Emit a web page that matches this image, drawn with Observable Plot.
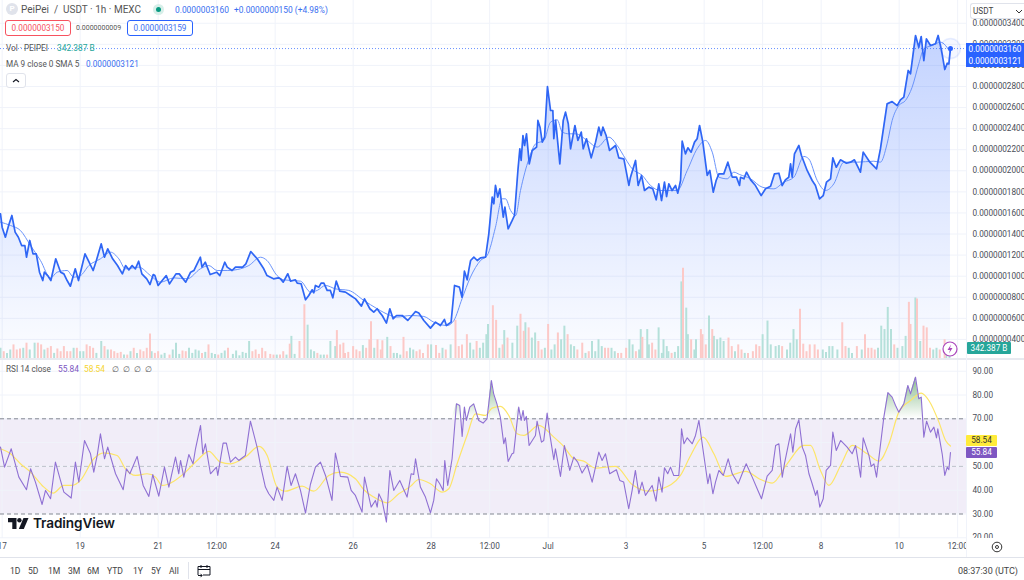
<!DOCTYPE html>
<html><head><meta charset="utf-8">
<script src="https://cdn.jsdelivr.net/npm/d3@7"></script>
<script src="https://cdn.jsdelivr.net/npm/@observablehq/plot@0.6"></script>
<style>
html,body{margin:0;padding:0;background:#fff}
#app{position:relative;width:1024px;height:580px;overflow:hidden;font-family:Roboto,"Liberation Sans",sans-serif;color:#555}
#app>div,.t{position:absolute;white-space:nowrap}
.pane{left:0}
.t{line-height:1}
.box{position:absolute;box-sizing:border-box;border-radius:3px;background:#fff;text-align:center;font-size:8.2px;line-height:14px;height:16px}
.tag{position:absolute;box-sizing:border-box;color:#fff;font-size:8.2px;text-align:center}
</style></head><body><div id="app"></div>
<script>
// price close, hours from chart start, in units of 1e-10 USDT
const priceHours=[0,1,3,5,7,9,11,13,15,16,18,20,22,24,26,27,29,31,34,37,39,41,43,46,48,52,54,57,59,62,64,66,69,72,75,77,79,81,83,85,87,90,92,94,95,97,102,104,108,110,114,117,119,123,124,126,129,133,135,138,139.5,142.5,144.6,149,151,154,158,162,164,168,171,
172.3,174,176.8,178.5,181.5,182.6,185,187.7,189.7,191.8,192.8,193.8,195.9,197.3,199,201,203,204.5,206.6,208.8,212.3,215.4,218.5,222.1,224,227.3,229.7,231.8,233.2,234.9,237.5,239.6,241.6,243.7,247.2,250.6,253.3,255.4,257.4,260.5,264.6,267.7,270.7,273.2,274.4,277.3,279.4,282.4,284,285.5,287.2,
288.2,289.3,291.3,293.4,295.4,298.5,300.5,302.6,303.6,304.6,306,307.3,309.4,310.4,312.4,314.9,316.3,318.4,319.6,320.4,321.5,322.5,323.7,325.4,327.2,329.9,330.7,332,333.4,334.8,336.6,338.5,339.9,340.5,341.6,344.2,346.3,347.7,349.4,350.8,353.5,355.3,357.4,358.6,360.6,363.5,366.2,368.2,369.6,370.7,372.7,374.8,378.5,380.5,383.6,386.7,387.7,390.8,392.4,394.5,396.3,399,401.4,403.5,405.1,406.8,408.6,409.9,411.3,413.3,415.4,416.8,418.5,419.5,421.5,423,425,427.1,428.7,430.2,432.2,434.9,436.5,438.6,440.4,442.1,445.1,447.6,450.3,452.9,454.8,
455.4,457.5,459.1,461.6,464.6,468.1,470.8,473.9,476.3,479,481,483,485.1,486.2,487.2,488.6,491.3,492.9,496.4,499.5,501.5,504,506.3,508.3,510.8,512.2,514.3,516.9,520.6,523.1,525.5,529.2,530.9,535,539.1,541.5,545.6,548.7,551.8,553.8,555.9,558.6,560,563.1,565.1,566.6,568.2,569.8,572.3,575.4,577,579.1,581.1,582.6,583.6,584.6];
const priceValues=[1592,1465,1370,1481,1576,1418,1370,1291,1291,1180,1339,1212,1212,1038,959,1038,1006,959,1165,1038,1022,959,905,1070,959,1212,1149,1054,1149,1307,1180,1259,1165,1101,1022,1101,1060,1101,1070,1142,1022,975,921,1016,1006,912,1006,927,1022,1022,943,1038,1054,1180,1086,1133,1016,1038,1006,1133,1086,1054,1086,1086,1117,1234,1165,1070,1006,975,984,
975,944,1023,953,966,934,928,776,817,871,842,912,896,934,934,865,865,795,953,858,849,817,785,716,785,691,659,691,659,627,555,691,596,627,627,580,627,665,650,580,507,564,532,589,532,564,912,896,801,1048,966,
1060,1149,1181,1149,1174,1181,1402,1750,1687,1861,1750,1829,1560,1655,1450,1529,1576,2003,2209,2098,2335,2240,2351,2066,2193,2225,2478,2414,2272,2319,2800,2572,2572,2304,2478,2066,2478,2557,2446,2209,2430,2288,2367,2209,2304,2123,2272,2414,2335,2414,2335,2193,2240,2123,2114,1861,1940,2098,1861,1956,1813,1845,1829,1725,1877,1718,1892,1756,1877,1813,1861,1788,1908,2281,2161,2218,2177,2272,2304,2430,2272,1956,2003,1797,1908,1971,1971,2082,1940,1940,1861,
1939,1924,1987,1914,1860,1765,1829,1854,1971,1977,1860,1914,1939,2066,1939,2161,2240,2145,2003,1908,1860,1734,1765,1892,1924,2123,2034,2104,2072,2082,2104,1987,2177,2082,2018,2208,2635,2657,2619,2673,2699,2952,2920,3284,3173,3274,3046,3252,3189,3205,3284,3141,2961,3021,3015,3160];
// MA of the close
const maHours=[0,6.2,12.3,18.5,24.6,30.8,34.9,41,45,49.2,54.4,61.5,67.7,72.8,76.9,85.1,92.3,98.4,106.7,114.9,123,128.2,133.3,139.5,147.7,152.8,160,164,170.2,174.3,184.6,190.8,194.9,200,206.1,214.3,223.6,231.8,240,244,252.3,260.5,266.6,274.9,279,284,289.2,295.4,299.5,304.6,308.7,310.8,313.9,317,320,325.2,329.3,334.4,338.5,342.6,345.7,349.8,353.9,361,367.2,374.4,379.5,384.6,388.7,394.9,400,406.2,416.4,422.6,428.7,433.9,438,442.1,447.2,451.3,454.8,461.6,468.7,475.9,482,488.2,494.4,497.4,502.6,507.7,512.8,519,527.2,537.4,541.5,545.6,548.7,552.8,556.9,561,565.1,568.2,573.3,578.5,584.6];
const maValues=[1513,1481,1433,1291,1149,984,1038,1054,991,1006,1101,1165,1228,1165,1070,1086,1006,943,984,975,1070,1101,1054,1054,1070,1101,1180,1149,1006,965,953,849,865,912,880,865,770,691,627,612,627,618,564,532,580,785,991,1149,1197,1465,1734,1734,1624,1576,1813,2114,2256,2288,2462,2484,2367,2351,2351,2288,2225,2319,2240,2114,2019,1956,1861,1813,1813,2003,2209,2288,2177,1940,1924,1987,1965,1924,1845,1829,1892,1939,2136,2113,1908,1813,1876,2082,2082,2091,2082,2256,2477,2619,2667,2793,3015,3157,3189,3220,3121];
// volume bars, billions, u = up, d = down
const volumeHours=[0,2,4,6,8,10,12,14,16,18,21,23,25,27,29,31,33,35,37,39,41,43,45,47,49,51,53,55,57,59,62,64,66,68,70,72,74,76,78,80,82,84,86,88,90,92,93,95,97,99,101,104,106,108,110,112,114,116,118,120,122,124,126,128,130,132,134,136,138,140,143,145,147,149,151,153,155,157,159,161,163,166,168,170,172,174,176,178,179,181,184,187,189,191,193,195,
197,199,201,203,206,207,209,211,212,214,217,219,221,223,225,227,228,230,232,234,235,238,240,242,244,246,248,250,252,254,256,258,260,263,265,268,270,272,274,277,280,282,284,287,289,291,293,295,297,299,300,303,305,307,309,310,312,315,318,320,322,323,325,327,329,331,333,335,337,339,341,343,345,347,349,351,353,355,358,360,362,364,366,368,370,372,374,376,378,380,382,385,387,389,391,393,
394,395,398,399,401,403,405,407,408,410,411,413,415,417,419,420,422,423,425,427,428,431,432,434,436,438,439,441,443,445,448,450,452,454,456,458,460,463,465,467,469,472,474,477,479,481,484,486,488,490,492,494,496,498,501,503,506,508,510,512,515,518,520,522,524,527,530,532,534,536,538,540,542,544,546,548,550,552,555,557,559,560,563,564,566,568,570,572,574,576,578,581,582,584];
const volumeValues=[510,340,255,425,680,425,475,510,765,425,765,765,680,425,510,595,255,475,340,595,340,340,510,510,340,340,680,595,510,255,850,595,425,425,340,255,305,170,170,340,510,255,425,340,510,1225,340,255,340,170,255,170,425,765,205,375,340,510,255,425,375,255,305,680,255,205,170,255,375,510,205,375,135,305,255,850,340,425,205,510,340,205,170,170,170,340,170,715,1105,205,850,2685,1665,425,340,255,
170,170,170,850,595,1395,680,765,255,305,595,425,340,645,510,935,1835,510,935,425,885,1055,595,255,255,170,1055,340,510,425,340,425,255,680,680,645,255,510,425,680,1905,595,680,1190,765,425,850,510,765,1190,1700,2635,1905,510,680,1395,1020,765,1615,2210,1360,1785,1530,1020,1275,850,425,510,1700,425,680,1275,935,1615,1190,680,595,425,765,255,340,850,340,935,595,510,510,510,340,255,255,510,935,680,340,425,
1445,1055,1445,680,765,425,1530,255,935,595,340,255,305,595,3825,4505,2515,1190,935,425,935,1445,1190,680,2125,1445,1105,935,1020,850,1020,595,340,680,425,255,255,340,680,595,1190,1870,680,595,645,595,425,765,1445,935,2465,715,340,680,680,425,425,305,595,595,425,1785,595,510,255,595,425,1190,510,510,425,510,1615,1445,2550,1445,680,510,595,1105,2805,1700,3025,2975,850,1615,1530,510,425,510,425,935,425,342];
const volumeDirs="uuduudduududdddudddduddduuddduuuduuduududuuddudddduddddudddudduuuduuuuuuuuuddduuuudududuuuuuuuddduudduuddddduddduddduuuuuudduuuuuuuuuduuuduuuduuddddduuuuuuuududddduuuuuduuuuduuuuduudddd".padEnd(0,"u");
const volumeDirsA="uuduudduududdddduuddduuuddduuuddduuuuduudduuddduddduuuddddududuuuuuuuddduuuuuuuudduudduudddduduuuuu";
// RSI 14
const rsiHours=[0,2.5,6.6,11.3,16,18.5,21.5,25.6,27.7,30.8,33.8,36.9,39,43.5,46.1,48.2,51.7,55.4,57.4,59.5,61.5,64,66,70.8,75.5,77.5,79.6,84.1,87.8,91.3,93.7,97.4,100.9,103.6,107.7,109.7,110.8,112.8,115.9,118.5,120,123.1,124.5,126.1,129.2,132.9,133.7,137,139,141.5,144.6,146.6,150.7,153.8,157.9,160,163,165.1,168.2,170.2,173.3,176.4,178.8,181.5,184.6,187.7,190.7,193.8,196.9,200,204,206.1,209.2,213.7,215.8,218.4,222.5,224,228.1,230.7,231.8,232.8,234.8,237.5,239.6,242,245.7,250.2,252.7,254.3,255.4,258.4,261.5,264.6,266.6,268.3,270.3,272.4,273.4,275.2,277.9,280.6,282.6,284.1,285.5,286.7,288.8,291.2,294.3,297,299.4,302.1,303.5,305.6,307.6,309.7,310.7,312.4,314.8,315.8,318.9,320.4,321.6,322.4,323.6,325.3,329.2,330.2,332.9,334.3,336.4,338,340.5,341.5,344.6,347,350.3,352.8,355.2,357.9,361,364.1,368.2,370.2,372.3,374.9,379,381.1,383.5,386.6,388.7,390.7,392.8,394.8,396.9,401,403.4,405.1,407.1,408.6,410.6,412.3,414.3,417.4,418.4,419.1,420.6,422.6,425.7,427.7,429.8,431.8,435.3,436.5,438.4,440,442.1,444.8,447.8,450.3,454,456.4,458.9,462.6,466.1,468.3,471.8,474.9,477,479,481.1,482.5,486.2,487.6,489.3,491.3,493.4,495.4,497.5,499.5,501.6,502.6,504.2,506.3,508.1,510.8,512.2,514.3,517,521,524.1,526.2,529.3,530.9,534.4,535.8,537.5,539.1,541.6,543.6,546.1,548.7,550.8,552.8,555.9,558.4,560,563.1,565.1,566.6,568.2,569.9,572.3,574.4,576,576.8,579.5,581.1,582.6,583.6,584.6];
const rsiValues=[58.1,49.7,57.4,45.5,40.2,49,43.4,34,39.9,36.4,51.8,44.1,39.2,36.7,51.8,43.4,60.9,55.3,47.6,54.6,63.7,53.2,58.1,46.9,40.2,49,46.9,54.2,42,37.4,46.6,37.5,49.7,41.3,53.9,46.9,52.5,45.5,55,51.1,57.4,67.2,55.3,59.5,46.9,49.7,46.2,59.8,59.8,51.8,53.9,52.5,54.6,69,58.1,50.4,41.3,38.5,35.7,41.3,35.7,50,42,46.9,39.9,30.4,42.4,49.7,51.8,46.2,35.7,55.6,45.8,45.5,39.9,37.8,30.8,45.5,32.9,35.7,32.9,38.5,35.7,26.6,48.3,39.9,44.1,37.1,46.9,46.6,53.2,41.3,37.1,30.5,35.7,44.8,42.7,39.9,52.5,42,53.2,76.3,75.6,62.6,74.9,69.3,74.9,76.3,69.3,68.2,70,86.1,80.5,76,70.7,59.5,62,52.1,55.3,55.6,74.9,69.3,73.5,69.3,71,58.8,63,69,60.2,60.9,72.4,63.7,52.8,57.4,45.8,58.8,48.3,53.9,51.8,47.2,50.7,43.4,56,52.5,55.3,46.9,48.6,44.1,43.4,32.2,39.9,48.3,38.5,43.4,37.8,42,35.4,45.5,39.2,49.4,46.9,49.7,46.2,46.2,54.6,65.8,59.5,62,59.5,63,69.3,59.5,42.7,46.9,38.5,43.4,48.3,46.2,53.2,46.9,42.7,46.9,51.1,45.5,39.9,36.4,45.9,48.3,58.8,59.5,45.5,51.4,63.7,56,65.8,69.6,58.1,54.6,46.9,42.7,37.8,39.9,32.9,36.4,48.3,50.4,64.4,56.7,60.9,58.1,55.3,58.8,45.5,62,54.6,50,51.1,45.5,59.5,70.7,81,79.1,75.6,72.8,76.3,84,80.5,87.5,78.4,79.1,62.3,69,64.4,66.5,62,65.8,55.3,46.2,49.7,48.6,55.84];
// RSI moving average
const rsiMaHours=[0,6.2,12.3,18.5,25.6,32.4,39,44.1,49.2,57.4,63.6,71.8,76.9,83.1,90.2,95.4,99.5,106.7,113.8,121,128.2,135.4,141.5,150.7,159,164.1,170.2,175.4,185.6,192.8,202,209.2,218.4,223.6,229.7,237.9,245.1,252.3,257.4,264.6,271.8,275.9,281,287.1,292.3,298.4,302.5,307.6,312.8,317.9,322,331.2,340.5,346.6,352.8,358.9,366.1,378.4,388.7,398.9,407.1,418.4,424.7,432.4,439,446.2,458.5,467.7,474.9,484.1,494.4,498.5,504.6,509.8,517,524.1,533.4,540.5,546.7,552.8,560,566.6,571.3,577.5,581.6,584.6];
const rsiMaValues=[57.4,55.3,51.1,47.6,42,38.8,42,42,44.1,53.2,55.7,54.6,49,46.2,46.9,45.5,42,43.8,47.6,52.5,56.3,51.8,51.1,53.9,58.4,54.6,41.3,39.6,41.7,39.6,46.2,47.6,44.8,40.2,37.1,34.7,38.5,41.6,44.5,42.7,39.2,40.6,51.1,63,72.1,71.4,74.5,75.2,71.4,63.7,63,67.2,62.3,58.4,53.2,52.2,49.3,50,42.4,39.6,40.6,46.2,54.6,62.3,55.3,45.8,47.9,44.5,43,51.1,58.8,58.8,48.3,42,50.4,58.8,55.3,52.2,59.5,72.8,77.7,80.8,77.7,68.6,60.9,58.54];
// axes
const priceTicks=[3400,3200,3000,2800,2600,2400,2200,2000,1800,1600,1400,1200,1000,800,600,400];
const rsiTicks=[90,80,70,60,50,40,30,20];
const rsiTickLabels=[90,80,70,50,40,30,20]; // ref prints no 60.00 under the tags
const timeTickDates=["2024-06-17T00:00Z","2024-06-19T00:00Z","2024-06-21T00:00Z","2024-06-22T12:00Z","2024-06-24T00:00Z","2024-06-26T00:00Z","2024-06-28T00:00Z","2024-06-29T12:00Z","2024-07-01T00:00Z","2024-07-03T00:00Z","2024-07-05T00:00Z","2024-07-06T12:00Z","2024-07-08T00:00Z","2024-07-10T00:00Z","2024-07-11T12:00Z"];
const timeTickLabels=["17","19","21","12:00","24","26","28","12:00","Jul","3","5","12:00","8","10","12:00"];
const rangeLabels=[["1D",10],["5D",28],["1M",48],["3M",68],["6M",87],["YTD",107],["1Y",133],["5Y",151],["All",169]];

const origin=Date.UTC(2024,5,16,23);
const toDate=h=>new Date(origin+h*3600e3);
const zipSeries=(hs,vs)=>hs.map((h,i)=>({t:toDate(h),v:vs[i]}));
const price=zipSeries(priceHours,priceValues);
const ma=zipSeries(maHours,maValues);
const rsi=zipSeries(rsiHours,rsiValues);
const rsiMa=zipSeries(rsiMaHours,rsiMaValues);
const isUp=h=>{ // a bar is up when the close rose over the hour around it
  const i=d3.bisectLeft(priceHours,h);
  const a=priceValues[Math.max(0,i-1)],b=priceValues[Math.min(priceValues.length-1,i)];
  return b>=a;
};
const volume=volumeHours.map((h,i)=>({t:toDate(h),v:volumeValues[i],up:isUp(h)}));
const tickDates=timeTickDates.map(s=>new Date(s));
const xDomain=[toDate(0),toDate(966/1.625)];
const gridColor="#f0f3fa";
const volBase=219,volK=0.19;
const font="Roboto,'Liberation Sans',sans-serif";

const defs=()=>{
  const s=d3.create("svg:defs");
  const g=s.append("linearGradient").attr("id","priceFade").attr("x1",0).attr("x2",0).attr("y1",0).attr("y2",1);
  g.append("stop").attr("offset",0).attr("stop-color","#2962ff").attr("stop-opacity",.28);
  g.append("stop").attr("offset",1).attr("stop-color","#2962ff").attr("stop-opacity",.015);
  const h=s.append("linearGradient").attr("id","obFade").attr("x1",0).attr("x2",0).attr("y1",0).attr("y2",1);
  h.append("stop").attr("offset",0).attr("stop-color","#388e3c").attr("stop-opacity",.6);
  h.append("stop").attr("offset",1).attr("stop-color","#388e3c").attr("stop-opacity",0);
  return s.node();
};

const pricePlot=Plot.plot({
  width:1024,height:358,marginLeft:0,marginRight:58,marginTop:0,marginBottom:0,
  style:{background:"transparent",fontFamily:font},
  x:{type:"utc",domain:xDomain,axis:null},
  y:{domain:[219,3616],axis:null},
  marks:[
    defs,
    Plot.gridX(tickDates,{stroke:gridColor,strokeOpacity:1}),
    Plot.gridY(priceTicks,{stroke:gridColor,strokeOpacity:1}),
    Plot.areaY(price,{x:"t",y1:()=>volBase,y2:"v",fill:"url(#priceFade)"}),
    Plot.ruleX(volume.filter(d=>d.up),{x:"t",y1:()=>volBase,y2:d=>volBase+d.v*volK,stroke:"#b5e0da",strokeWidth:2}),
    Plot.ruleX(volume.filter(d=>!d.up),{x:"t",y1:()=>volBase,y2:d=>volBase+d.v*volK,stroke:"#fcc9c7",strokeWidth:2}),
    Plot.ruleY([3160],{stroke:"#2962ff",strokeDasharray:"1,2",strokeOpacity:.7}),
    Plot.line(ma,{x:"t",y:"v",stroke:"#6b94fb",strokeWidth:1,curve:"monotone-x"}),
    Plot.line(price,{x:"t",y:"v",stroke:"#2f66f5",strokeWidth:1.7}),
    Plot.dot(price.slice(-1),{x:"t",y:"v",r:10,fill:"#2962ff",fillOpacity:.05,stroke:"#2962ff",strokeOpacity:.1}),
    Plot.dot(price.slice(-1),{x:"t",y:"v",r:2.5,fill:"#2962ff"}),
    Plot.axisY({anchor:"right",ticks:priceTicks,tickSize:0,tickPadding:6,label:null,fontSize:8.2,fill:"#4a4e59",
      tickFormat:d=>(d*1e-10).toFixed(10)})
  ]
});

const rsiPlot=Plot.plot({
  width:1024,height:198,marginLeft:0,marginRight:58,marginTop:0,marginBottom:20,
  style:{background:"transparent",fontFamily:font},
  x:{type:"utc",domain:xDomain,axis:null},
  y:{domain:[19.7,94.5],axis:null},
  marks:[
    defs,
    Plot.rectY([0],{x1:()=>xDomain[0],x2:()=>xDomain[1],y1:()=>30,y2:()=>70,fill:"#7e57c2",fillOpacity:.11}),
    Plot.gridX(tickDates,{stroke:gridColor,strokeOpacity:1}),
    Plot.gridY(rsiTicks,{stroke:gridColor,strokeOpacity:1}),
    Plot.areaY(rsi,{x:"t",y1:()=>70,y2:d=>Math.max(d.v,70),fill:"url(#obFade)"}),
    Plot.ruleY([70,30],{stroke:"#787b86",strokeDasharray:"4,3",strokeWidth:.9}),
    Plot.ruleY([50],{stroke:"#787b86",strokeOpacity:.45,strokeDasharray:"4,3",strokeWidth:.9}),
    Plot.line(rsiMa,{x:"t",y:"v",stroke:"#fde568",strokeWidth:1.2,curve:"monotone-x"}),
    Plot.line(rsi,{x:"t",y:"v",stroke:"#8f70d3",strokeWidth:1.1}),
    Plot.axisY({anchor:"right",ticks:rsiTickLabels,tickSize:0,tickPadding:6,label:null,fontSize:8.2,fill:"#4a4e59",tickFormat:d=>d.toFixed(2)}),
    Plot.axisX({ticks:tickDates,tickSize:0,tickPadding:5,label:null,fontSize:8.2,fill:"#4a4e59",
      tickFormat:d=>timeTickLabels[tickDates.findIndex(x=>+x===+d)]})
  ]
});

const app=document.getElementById("app");
function place(node,top){const d=document.createElement("div");d.className="pane";d.style.top=top+"px";d.appendChild(node);app.appendChild(d);}
place(pricePlot,0);
place(rsiPlot,360);

function txt(s,x,y,size,color,extra){
  const e=document.createElement("div");e.className="t";e.textContent=s;
  e.style.cssText=`left:${x}px;top:${y}px;font-size:${size}px;color:${color};${extra||""}`;
  app.appendChild(e);return e;
}
function html(h){const t=document.createElement("div");t.innerHTML=h;while(t.firstChild)app.appendChild(t.firstChild);}

// separators
html(`<div style="position:absolute;left:0;top:358px;width:1024px;height:2px;background:#e8eaf0"></div>
<div style="position:absolute;left:0;top:557px;width:1024px;height:1px;background:#e0e3eb"></div>
<div style="position:absolute;left:966px;top:0;width:1px;height:557px;background:#f0f3fa"></div>
<div style="position:absolute;left:967px;top:538px;width:57px;height:19px;background:#fff"></div>`);

// header
html(`<div style="position:absolute;left:6px;top:3px;width:12px;height:12px;border-radius:50%;background:#e0e3eb;color:#fff;font-size:8px;font-weight:700;line-height:12px;text-align:center">P</div>
<div style="position:absolute;left:153px;top:4px;width:11px;height:11px;border-radius:50%;background:#d7efe9"></div>
<div style="position:absolute;left:156px;top:7px;width:5px;height:5px;border-radius:50%;background:#089981"></div>`);
txt("PeiPei  /  USDT · 1h · MEXC",21,4.5,10,"#555",'white-space:pre');
txt("0.0000003160",175,5.5,8.4,"#3a6ff0");
txt("+0.0000000150 (+4.98%)",234,5.5,8.4,"#3a6ff0");
html(`<div class="box" style="left:5px;top:20px;width:66px;border:1px solid #f7525f;color:#f7525f">0.0000003150</div>
<div class="box" style="left:127px;top:20px;width:66px;border:1px solid #2962ff;color:#3a6ff0">0.0000003159</div>`);
txt("0.0000000009",76,24.5,7,"#555");
txt("Vol · PEIPEI",6,44,8.2,"#555");
txt("342.387 B",57,44,8.4,"#26a69a");
txt("MA 9 close 0 SMA 5",6,60,8.2,"#555");
txt("0.0000003121",86,60,8.2,"#3a6ff0");
html(`<div style="position:absolute;box-sizing:border-box;left:6px;top:73px;width:20px;height:15px;border:1px solid #e0e3eb;border-radius:3px;background:#fff">
<svg width="18" height="13" style="display:block"><path d="M6 8l3-2.5L12 8" fill="none" stroke="#131722" stroke-width="1.1"/></svg></div>`);
// axis currency box
html(`<div style="position:absolute;box-sizing:border-box;left:970px;top:3px;width:54px;height:16px;border:1px solid #e0e3eb;border-right:0;border-radius:3px 0 0 3px;background:#fff;font-size:8.2px;line-height:14px;padding-left:2px;color:#444">USDT
<svg width="8" height="6" style="position:absolute;left:44px;top:5px"><path d="M1 1l3 3 3-3" fill="none" stroke="#333" stroke-width="1"/></svg></div>`);
// last value tags
html(`<div class="tag" style="left:966px;top:43px;width:58px;height:24px;background:#2962ff;line-height:12px;padding-top:0">0.0000003160<br>0.0000003121</div>
<div class="tag" style="left:967px;top:342px;width:44px;height:12px;background:#26a69a;line-height:12px;border-radius:1px">342.387 B</div>
<div class="tag" style="left:966px;top:435px;width:31px;height:11px;background:#ffeb3b;color:#333;line-height:11px;border-radius:1px">58.54</div>
<div class="tag" style="left:966px;top:447px;width:31px;height:11px;background:#7e57c2;line-height:11px;border-radius:1px">55.84</div>`);
// lightning badge
html(`<svg style="position:absolute;left:942px;top:341px" width="16" height="16"><circle cx="8" cy="8" r="7" fill="#fff" stroke="#ab47bc" stroke-width="1.2"/><path d="M9 3.5L5.5 9H8l-1 3.5L10.5 7H8z" fill="#ab47bc"/></svg>`);
// RSI legend
txt("RSI 14 close",6,365,8.2,"#555");
txt("55.84",58,365,8.4,"#7e57c2");
txt("58.54",84,365,8.4,"#f6d530");
txt("∅  ∅  ∅  ∅",112,365,8.2,"#555",'white-space:pre');
// watermark
html(`<svg style="position:absolute;left:8px;top:518px" width="21" height="12"><path d="M0 0h8.5v11H4.3V4.2H0z" fill="#131722"/><circle cx="11.4" cy="2.2" r="2.2" fill="#131722"/><path d="M15.5 0H20.5L15.8 11H10.8z" fill="#131722"/></svg>`);
txt("TradingView",33,517,13.6,"#131722","font-family:Inter,Roboto,sans-serif;font-weight:600;letter-spacing:-.1px");
// bottom bar
rangeLabels.forEach(([s,x])=>txt(s,x,566.5,8.6,"#444"));
html(`<div style="position:absolute;left:188px;top:562px;width:1px;height:17px;background:#e0e3eb"></div>
<svg style="position:absolute;left:197px;top:564px" width="14" height="14"><path d="M1 11V2.5h12V11H6M1 5.5h12M4 1v3M10 1v3M1 11.5h4M3.5 9.8l1.6 1.7-1.6 1.7" fill="none" stroke="#131722" stroke-width="1"/></svg>
<svg style="position:absolute;left:991px;top:541px" width="12" height="12"><circle cx="6" cy="6" r="4.8" fill="none" stroke="#333" stroke-width="1"/><circle cx="6" cy="6" r="1.5" fill="none" stroke="#333" stroke-width="1"/></svg>`);
txt("08:37:30 (UTC)",958,566.5,9,"#444");
</script></body></html>
